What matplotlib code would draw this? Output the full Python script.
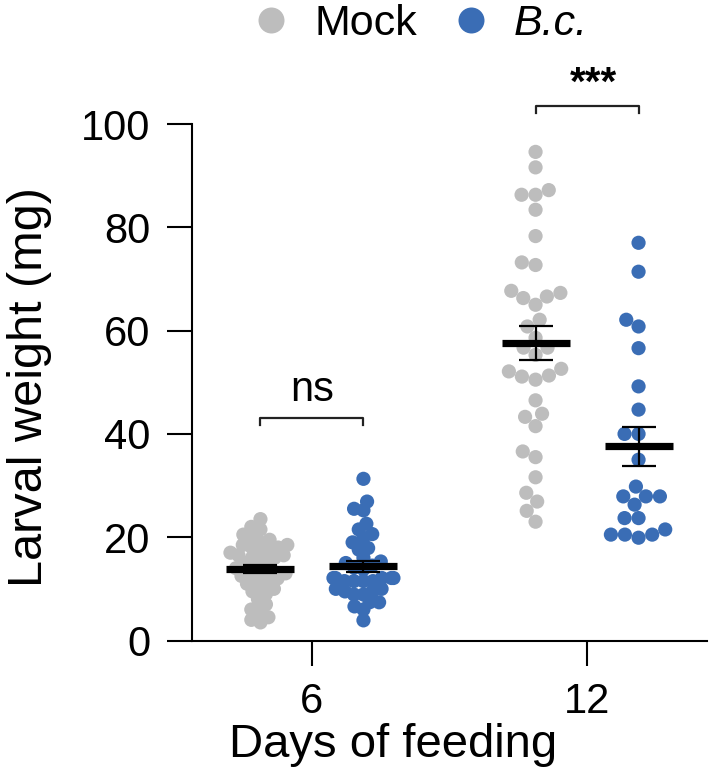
import numpy as np
import matplotlib
matplotlib.use("Agg")
import matplotlib.pyplot as plt
from matplotlib.lines import Line2D

plt.rcParams['font.family'] = ['Liberation Sans', 'DejaVu Sans']

# ---------------- data ----------------
days = ["6", "12"]
groups = ["Mock", "B.c."]
colors = {"Mock": "#BDBDBD", "B.c.": "#3A6DB5"}

mock_d6 = [23.5, 22.0, 21.5, 20.5, 20.0, 19.5, 19.0, 18.5, 18.5, 18.0, 18.0, 17.5,
           17.0, 17.0, 16.5, 16.5, 16.0, 16.0, 15.5, 15.0, 14.5, 14.0, 14.0, 13.5,
           13.0, 13.0, 12.5, 12.0, 12.0, 11.5, 11.0, 10.5, 10.0, 9.5, 9.0, 8.0,
           7.0, 6.0, 5.5, 4.5, 4.0, 3.5]
bc_d6 = [31.3, 26.9, 25.5, 25.2, 22.6, 21.5, 20.6, 19.9, 19.0, 17.9, 17.6, 16.0,
         15.3, 15.0, 14.5, 14.1, 13.8, 12.1, 12.1, 12.1, 12.1, 12.1, 11.5, 11.5,
         11.5, 11.5, 10.0, 10.0, 9.5, 9.5, 8.9, 8.9, 7.4, 7.4, 6.6, 6.0, 3.9]
mock_d12 = [94.6, 91.6, 87.2, 86.3, 86.3, 83.4, 78.3, 73.2, 72.7, 67.7, 67.3, 66.6,
            66.3, 65.0, 62.1, 60.8, 58.6, 56.7, 56.7, 55.3, 52.6, 51.1, 50.5, 51.3,
            52.1, 46.5, 43.9, 43.3, 41.5, 36.6, 35.5, 31.6, 28.6, 26.9, 25.1, 23.0]
bc_d12 = [77.0, 71.4, 62.1, 60.8, 56.6, 49.2, 44.7, 40.0, 40.0, 35.0, 29.8, 27.9,
          27.9, 27.9, 26.3, 23.7, 23.7, 21.5, 20.5, 20.5, 20.5, 19.9]

yticks = [0, 20, 40, 60, 80, 100]
sig_labels = ["ns", "***"]
sig_heights = [43, 103.5]

data = {("6", "Mock"): mock_d6, ("6", "B.c."): bc_d6,
        ("12", "Mock"): mock_d12, ("12", "B.c."): bc_d12}

# ---------------- figure ----------------
W, H = 709, 779
fig = plt.figure(figsize=(W / 100, H / 100), dpi=100)
ax = fig.add_axes([192 / W, 1 - 640.5 / H, (707 - 192) / W, (640.5 - 124) / H])
ax.set_ylim(0, 100)
ax.set_xlim(-0.436, 1.436)

# pixel scale from the axes transform
p0 = ax.transData.transform((0, 0))
p1 = ax.transData.transform((1, 1))
XPX = p1[0] - p0[0]
YPX = p1[1] - p0[1]

dodge = 51.5 / XPX
group_off = {"Mock": -dodge, "B.c.": dodge}


def swarm(vals, dcoll, maxhalf):
    vals = np.asarray(vals, float)
    ys = vals * YPX
    order = np.argsort(vals)
    placed = []
    offs = np.zeros(len(vals))
    for i in order:
        y = ys[i]
        near = [(px, py) for px, py in placed if abs(py - y) < dcoll]
        cands = [0.0]
        for px, py in near:
            dx = np.sqrt(dcoll ** 2 - (py - y) ** 2)
            cands += [px + dx, px - dx]
        cands.sort(key=lambda c: (abs(c), c))
        chosen = cands[-1]
        for c in cands:
            if all((c - px) ** 2 + (y - py) ** 2 >= dcoll ** 2 - 1e-6 for px, py in near):
                chosen = c
                break
        chosen = float(np.clip(chosen, -maxhalf, maxhalf))
        offs[i] = chosen
        placed.append((chosen, y))
    return offs / XPX


msize = (14.2 * 0.72) ** 2
for di, d in enumerate(days):
    for g in groups:
        vals = np.asarray(data[(d, g)], float)
        center = di + group_off[g]
        dcoll = 14.0 if d == "12" else 9.5
        offs = swarm(vals, dcoll, 30)
        ax.scatter(center + offs, vals, s=msize, color=colors[g],
                   edgecolors='none', zorder=2, clip_on=False)
        m = vals.mean()
        sem = vals.std(ddof=1) / np.sqrt(len(vals))
        ax.plot([center - 34 / XPX, center + 34 / XPX], [m, m], color='black',
                lw=5.2, solid_capstyle='butt', zorder=4)
        ax.errorbar([center], [m], yerr=[sem], fmt='none', ecolor='black',
                    elinewidth=1.6, capsize=12.5, capthick=1.6, zorder=4)

# significance brackets
drop = 7 / YPX
for di, (lab, h) in enumerate(zip(sig_labels, sig_heights)):
    xl = di - dodge
    xr = di + dodge
    ax.plot([xl, xl, xr, xr], [h - drop, h, h, h - drop], color='#222222',
            lw=1.6, clip_on=False, zorder=3)
    if lab == "ns":
        ax.text(di, h + 8 / YPX, lab, ha='center', va='bottom', fontsize=30,
                clip_on=False)
    else:
        ax.text(di + 6 / XPX, h + 3 / YPX, lab, ha='center', va='bottom',
                fontsize=29, fontweight='bold', clip_on=False)

# axes styling
for s in ['top', 'right']:
    ax.spines[s].set_visible(False)
for s in ['left', 'bottom']:
    ax.spines[s].set_linewidth(1.5)
ax.set_yticks(yticks)
ax.set_yticklabels([str(t) for t in yticks])
ax.set_xticks([0, 1])
ax.set_xticklabels(days)
ax.tick_params(axis='both', length=18, width=1.5, labelsize=30, pad=12)

fig.text(30 / W, 1 - 387 / H, "Larval weight (mg)", rotation=90, ha='center',
         va='center', fontsize=35)
fig.text(393 / W, 1 - 745 / H, "Days of feeding", ha='center', va='center',
         fontsize=34)

# legend
handles = [Line2D([], [], marker='o', linestyle='none', markersize=26 * 0.72,
                  markerfacecolor=colors[g], markeredgecolor='none') for g in groups]
leg = ax.legend(handles, groups, ncol=2, loc='center', frameon=False,
                bbox_to_anchor=(423 / W, 1 - 24 / H), bbox_transform=fig.transFigure,
                fontsize=31, handlelength=0.6, handletextpad=0.7, columnspacing=0.95,
                borderpad=0, borderaxespad=0)
leg.get_texts()[1].set_style('italic')

fig.savefig("out.png", dpi=100)
